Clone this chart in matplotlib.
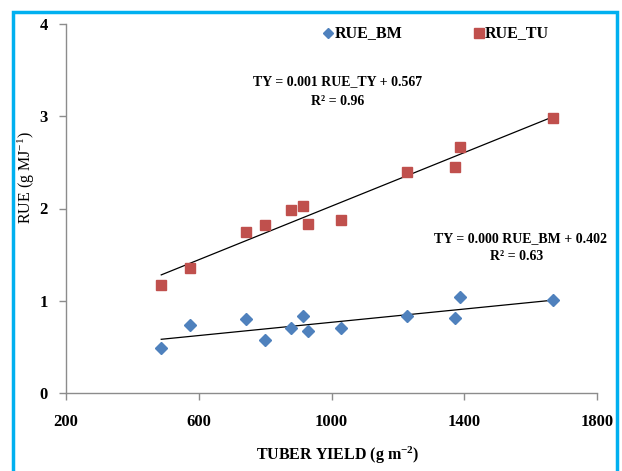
import numpy as np
import matplotlib
matplotlib.use("Agg")
import matplotlib.pyplot as plt
from matplotlib.patches import Rectangle
from matplotlib.lines import Line2D

tuber_yield = [487, 574, 743, 800, 878, 915, 928, 1030, 1228, 1371, 1387, 1667]
rue_bm = [0.49, 0.74, 0.80, 0.57, 0.70, 0.84, 0.67, 0.70, 0.83, 0.81, 1.04, 1.01]
rue_tu = [1.17, 1.36, 1.745, 1.82, 1.98, 2.03, 1.83, 1.88, 2.40, 2.45, 2.67, 2.98]
x_ticks = [200, 600, 1000, 1400, 1800]
y_ticks = [0, 1, 2, 3, 4]
eq_tu = ["TY = 0.001 RUE_TY + 0.567", "R² = 0.96"]
eq_bm = ["TY = 0.000 RUE_BM + 0.402", "R² = 0.63"]

blue = "#4F81BD"
red = "#C0504D"
font = "Liberation Serif"
plt.rcParams["mathtext.fontset"] = "custom"
plt.rcParams["mathtext.rm"] = "Liberation Serif"
plt.rcParams["mathtext.bf"] = "Liberation Serif:bold"
plt.rcParams["mathtext.it"] = "Liberation Serif:italic"

W, H = 622, 471
fig = plt.figure(figsize=(W / 100, H / 100), dpi=100)
ax = fig.add_axes([66 / W, 1 - 393 / H, (597 - 66) / W, (393 - 24) / H])

x = np.array(tuber_yield, dtype=float)
for ys, col, mk, ms in [(rue_bm, blue, "D", 6.5), (rue_tu, red, "s", 7)]:
    ys = np.array(ys)
    p = np.polyfit(x, ys, 1)
    xx = np.array([x.min(), x.max()])
    ax.plot(xx, np.polyval(p, xx), color="black", lw=0.9, zorder=2)
    ax.plot(x, ys, linestyle="none", marker=mk, ms=ms, color=col,
            markeredgecolor=col, zorder=3)

ax.set_xlim(200, 1800)
ax.set_ylim(0, 4)
ax.set_xticks(x_ticks)
ax.set_yticks(y_ticks)
for s in ["top", "right"]:
    ax.spines[s].set_visible(False)
for s in ["left", "bottom"]:
    ax.spines[s].set_color("#8c8c8c")
    ax.spines[s].set_linewidth(1.0)
ax.tick_params(axis="both", direction="out", length=5, color="#8c8c8c",
               width=1.0)
ax.tick_params(axis="x", pad=10)
ax.tick_params(axis="y", pad=8)
for lab in ax.get_xticklabels() + ax.get_yticklabels():
    lab.set_fontfamily(font)
    lab.set_fontweight("bold")
    lab.set_fontsize(12)

fig.text(338 / W, 1 - 455 / H, r"TUBER YIELD (g m$^{\mathbf{-2}}$)", ha="center",
         va="center", fontfamily=font, fontweight="bold", fontsize=11.5)
fig.text(26 / W, 1 - 178 / H, r"RUE (g MJ$^{-1}$)", ha="center", va="center",
         rotation=90, fontfamily=font, fontsize=11.5)

# equations
fs_eq = 10
fig.text(338 / W, 1 - 81.5 / H, eq_tu[0], ha="center", va="center",
         fontfamily=font, fontweight="bold", fontsize=fs_eq)
fig.text(338 / W, 1 - 101.5 / H, eq_tu[1], ha="center", va="center",
         fontfamily=font, fontweight="bold", fontsize=fs_eq)
fig.text(520 / W, 1 - 239 / H, eq_bm[0], ha="center", va="center",
         fontfamily=font, fontweight="bold", fontsize=fs_eq)
fig.text(517 / W, 1 - 256.5 / H, eq_bm[1], ha="center", va="center",
         fontfamily=font, fontweight="bold", fontsize=fs_eq)

# legend
fig.add_artist(Line2D([328 / W], [1 - 33 / H], marker="D", ms=5.5, color=blue,
                      linestyle="none", transform=fig.transFigure))
fig.text(335 / W, 1 - 33 / H, "RUE_BM", ha="left", va="center",
         fontfamily=font, fontweight="bold", fontsize=11.5)
fig.add_artist(Line2D([479 / W], [1 - 33 / H], marker="s", ms=7, color=red,
                      linestyle="none", transform=fig.transFigure))
fig.text(485 / W, 1 - 33 / H, "RUE_TU", ha="left", va="center",
         fontfamily=font, fontweight="bold", fontsize=11.5)

# cyan frame (bottom edge lies below the image)
fig.add_artist(Rectangle((12.5 / W, -10 / H), (616.5 - 12.5) / W, (470 - 11 + 10) / H,
                         transform=fig.transFigure, fill=False,
                         edgecolor="#00B0F0", linewidth=2.5, clip_on=False))

fig.savefig("out.png", dpi=100)
